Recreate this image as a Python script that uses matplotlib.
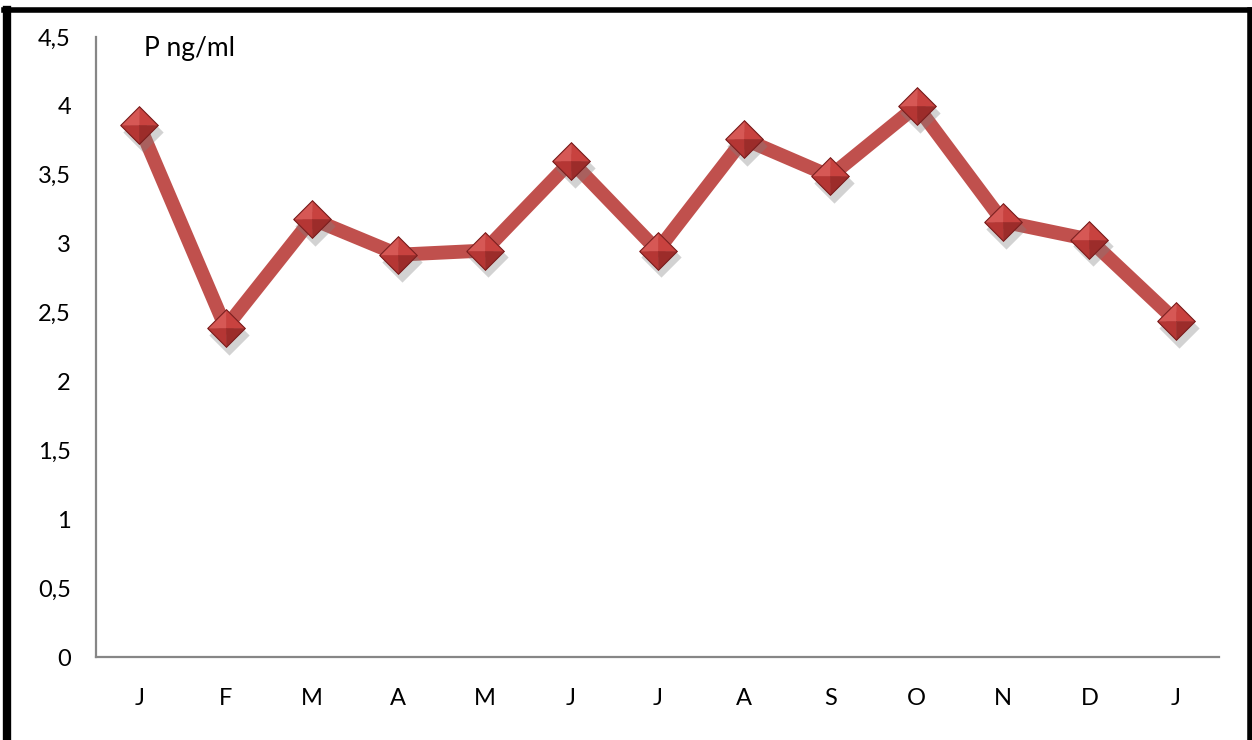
import numpy as np
import matplotlib.pyplot as plt
from matplotlib.lines import Line2D
from matplotlib.ticker import FuncFormatter

plt.rcParams['font.family'] = ['Lato', 'DejaVu Sans']

# monthly values (P ng/ml)
months = ['J', 'F', 'M', 'A', 'M', 'J', 'J', 'A', 'S', 'O', 'N', 'D', 'J']
p_values = [3.86, 2.39, 3.18, 2.92, 2.95, 3.60, 2.95, 3.76, 3.49, 4.00, 3.16, 3.03, 2.44]

red = '#c0504d'

fig = plt.figure(figsize=(12.52, 7.4), dpi=100)
ax = fig.add_axes([96 / 1252, 83 / 740, 1123 / 1252, 620 / 740])

x = np.arange(len(months))
y = np.array(p_values)

# thick line
ax.plot(x, y, color=red, lw=10, solid_capstyle='butt', zorder=2)

# bevelled diamond markers: shadow, four facets, thin outline
diamond = [(-1, 0), (0, 1), (1, 0), (0, -1), (-1, 0)]
facets = [
    ([(0, 0), (-1, 0), (0, 1), (0, 0)], '#d65855'),
    ([(0, 0), (0, 1), (1, 0), (0, 0)], '#c8423f'),
    ([(0, 0), (-1, 0), (0, -1), (0, 0)], '#b53634'),
    ([(0, 0), (1, 0), (0, -1), (0, 0)], '#9c2c2a'),
]
ms = 27
ax.plot(x + 0.04, y - 0.05, marker=diamond, ls='none', ms=ms + 2, color='#808080',
        alpha=0.35, mec='none', zorder=3)
for verts, c in facets:
    ax.plot(x, y, marker=verts, ls='none', ms=ms, color=c, mec=c, mew=0.4, zorder=4)
ax.plot(x, y, marker=diamond, ls='none', ms=ms, mfc='none', mec='#7a2020', mew=0.8, zorder=5)

ax.set_xlim(-0.5, len(months) - 0.5)
ax.set_ylim(0, 4.5)
ax.set_yticks(np.arange(0, 4.51, 0.5))
ax.yaxis.set_major_formatter(FuncFormatter(lambda v, p: ('%g' % v).replace('.', ',')))
ax.set_xticks(x)
ax.set_xticklabels(months)

for s in ['top', 'right']:
    ax.spines[s].set_visible(False)
for s in ['left', 'bottom']:
    ax.spines[s].set_color('#868686')
    ax.spines[s].set_linewidth(1.6)
ax.tick_params(axis='both', length=0, labelsize=17, colors='black')
ax.tick_params(axis='y', pad=18)
ax.tick_params(axis='x', pad=22)

ax.text(0.043, 0.982, 'P ng/ml', transform=ax.transAxes, fontsize=19,
        va='center', ha='left')

# black frame around the figure (open at the bottom)
fig.add_artist(Line2D([7 / 1252, 7 / 1252], [-0.1, 1 - 10 / 740],
                      transform=fig.transFigure, color='black', lw=6))
fig.add_artist(Line2D([4 / 1252, 1.01], [1 - 10 / 740, 1 - 10 / 740],
                      transform=fig.transFigure, color='black', lw=4))
fig.add_artist(Line2D([1250 / 1252, 1250 / 1252], [-0.1, 1 - 10 / 740],
                      transform=fig.transFigure, color='black', lw=4))

fig.savefig('out.png', dpi=100)
